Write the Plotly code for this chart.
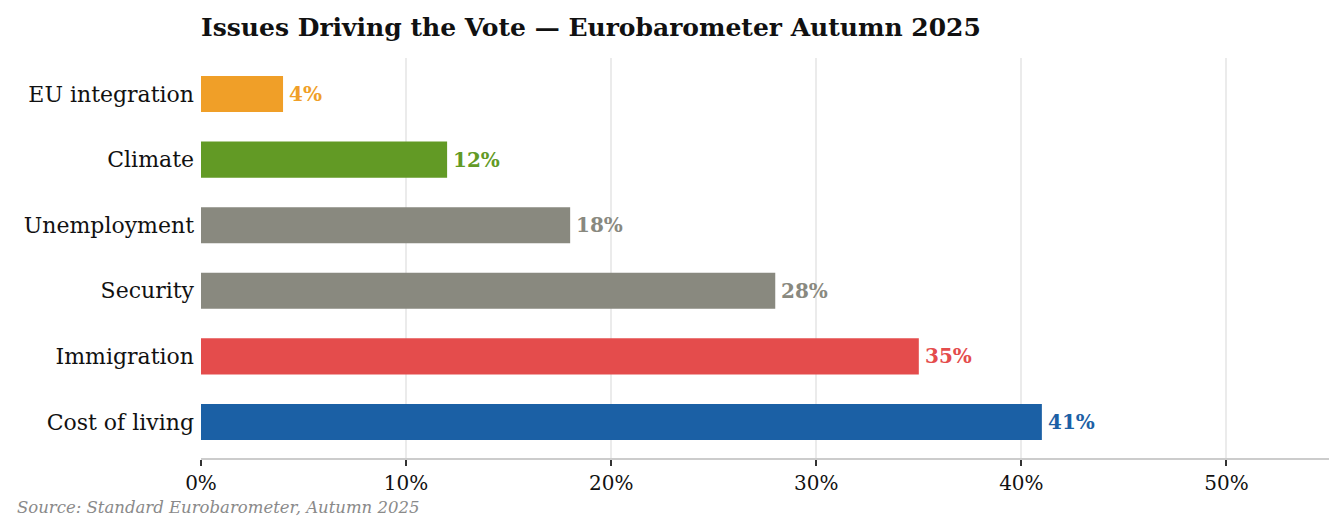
import plotly.graph_objects as go

categories = ["Cost of living", "Immigration", "Security", "Unemployment", "Climate", "EU integration"]
values = [41, 35, 28, 18, 12, 4]
colors = ["#1B60A5", "#E44C4C", "#89897F", "#89897F", "#629A25", "#F09F28"]
tick_vals = [0, 10, 20, 30, 40, 50]
tick_text = ["0%", "10%", "20%", "30%", "40%", "50%"]

FONT = "DejaVu Serif"

fig = go.Figure()
fig.add_trace(go.Bar(
    y=categories, x=values, orientation="h",
    marker=dict(color=colors, line=dict(width=0)),
    width=0.55, hoverinfo="skip",
))

for c, v, col in zip(categories, values, colors):
    fig.add_annotation(x=v, y=c, text=f"<b>{v}%</b>", showarrow=False,
                       xanchor="left", yanchor="middle", xshift=4,
                       font=dict(family=FONT, size=20, color=col))

fig.add_annotation(text="<i>Source: Standard Eurobarometer, Autumn 2025</i>",
                   xref="paper", yref="paper", x=-186/1128, y=-49/400,
                   xanchor="left", yanchor="middle", showarrow=False,
                   font=dict(family=FONT, size=16.5, color="#8a8a8a"))

fig.update_layout(
    width=1344, height=530,
    margin=dict(l=201, r=15, t=58, b=72),
    plot_bgcolor="white", paper_bgcolor="white",
    showlegend=False,
    title=dict(text="<b>Issues Driving the Vote — Eurobarometer Autumn 2025</b>",
               x=201/1344, xanchor="left", y=1-27/530, yanchor="middle",
               font=dict(family=FONT, size=25, color="#111111")),
    xaxis=dict(range=[0, 55], tickvals=tick_vals, ticktext=tick_text,
               showgrid=True, gridcolor="#ebebeb", gridwidth=1.5,
               showline=True, linecolor="#cccccc", linewidth=2,
               ticks="outside", ticklen=6, tickcolor="#333333", tickwidth=2,
               zeroline=False,
               tickfont=dict(family=FONT, size=20, color="#111111")),
    yaxis=dict(range=[-0.55, 5.55], showgrid=False, showline=False, zeroline=False,
               ticks="", ticklabelstandoff=6,
               tickfont=dict(family=FONT, size=22, color="#111111")),
)

fig.write_html("out.html")
